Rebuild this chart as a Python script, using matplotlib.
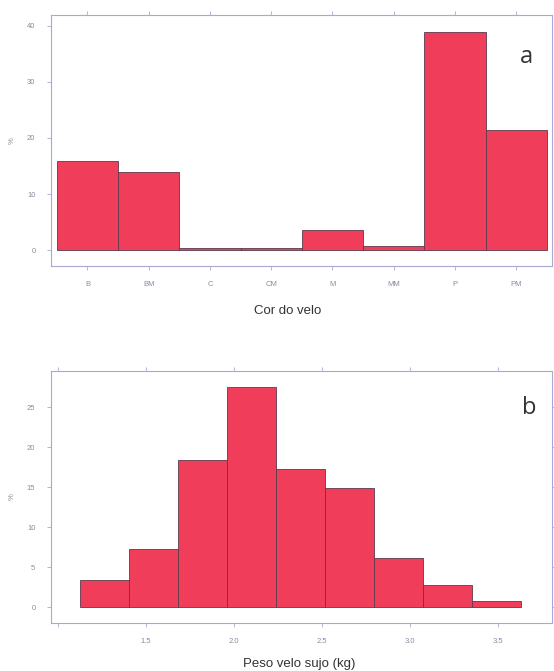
import numpy as np
import matplotlib
matplotlib.use("Agg")
import matplotlib.pyplot as plt

# panel a: colour of fleece (%)
cor_labels = ["B", "BM", "C", "CM", "M", "MM", "P", "PM"]
cor_pct = [15.9, 14.0, 0.3, 0.3, 3.6, 0.7, 39.0, 21.5]

# panel b: dirty fleece weight histogram (%)
peso_start = 1.123
peso_width = 0.279
peso_pct = [3.4, 7.25, 18.4, 27.5, 17.3, 14.9, 6.2, 2.75, 0.83]
peso_ticks = [1.0, 1.5, 2.0, 2.5, 3.0, 3.5]
peso_ticklabels = ["", "1.5", "2.0", "2.5", "3.0", "3.5"]

bar_color = "#f03e5a"
edge_color = "#5c3a4c"
frame_color = "#a8a8d0"
tick_text = "#8a8aa0"

plt.rcParams["font.family"] = ["Liberation Sans", "DejaVu Sans"]

fig = plt.figure(figsize=(5.54, 6.71), dpi=100)
ax_a = fig.add_axes([0.0915, 0.604, 0.9043, 0.374])
ax_b = fig.add_axes([0.0915, 0.072, 0.9043, 0.375])


def style(ax):
    for s in ax.spines.values():
        s.set_color(frame_color)
        s.set_linewidth(0.8)
    ax.tick_params(axis="both", direction="out", length=3, width=0.6,
                   color=frame_color, labelcolor=tick_text, labelsize=5.5,
                   pad=8, top=True, right=False)
    ax.tick_params(axis="x", labeltop=False)
    ax.set_ylabel("%", fontsize=5.5, color=tick_text, labelpad=8)


# panel a
x = np.arange(len(cor_labels))
ax_a.bar(x, cor_pct, width=1.0, color=bar_color, edgecolor=edge_color, linewidth=0.6)
ax_a.set_xlim(-0.6, 7.58)
ax_a.set_ylim(-2.8, 42)
ax_a.set_xticks(x)
ax_a.set_xticklabels(cor_labels)
ax_a.set_yticks([0, 10, 20, 30, 40])
style(ax_a)
ax_a.text(0.949, 0.83, "a", transform=ax_a.transAxes, fontsize=17,
          color="#333333", ha="center", va="center", family="Open Sans")
fig.text(0.52, 1 - 310.7 / 671, "Cor do velo", ha="center", va="center",
         fontsize=9.5, color="#333333")

# panel b
edges = peso_start + peso_width * np.arange(len(peso_pct))
ax_b.bar(edges, peso_pct, width=peso_width, align="edge", color=bar_color,
         edgecolor=edge_color, linewidth=0.6)
ax_b.set_xlim(0.957, 3.807)
ax_b.set_ylim(-1.9, 29.5)
ax_b.set_xticks(peso_ticks)
ax_b.set_xticklabels(peso_ticklabels)
ax_b.set_yticks([0, 5, 10, 15, 20, 25])
style(ax_b)
ax_b.tick_params(axis="y", right=True)
ax_b.text(0.955, 0.853, "b", transform=ax_b.transAxes, fontsize=17,
          color="#333333", ha="center", va="center", family="Open Sans")
fig.text(0.54, 1 - 664 / 671, "Peso velo sujo (kg)", ha="center", va="center",
         fontsize=9.5, color="#333333")

fig.savefig("out.png", dpi=100)
